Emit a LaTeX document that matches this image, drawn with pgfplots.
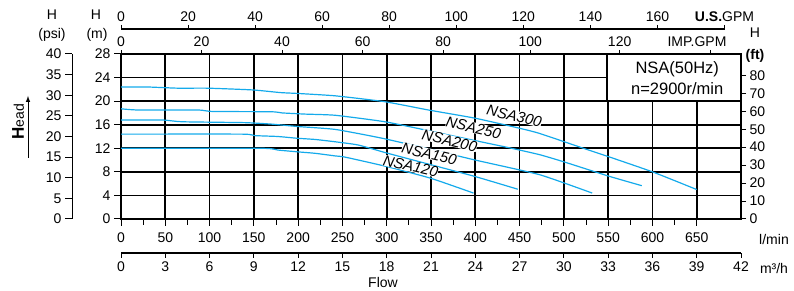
\documentclass[border=0pt]{standalone}
\usepackage{fontspec}
\setmainfont{Liberation Sans}
\usepackage{pgfplots}
\pgfplotsset{compat=1.18}
\definecolor{cb}{RGB}{20,170,235}
\begin{document}
\begin{tikzpicture}[x=1pt,y=1pt]
\useasboundingbox (0pt,0pt) rectangle (794pt,291pt);
\pgfplotsset{every axis/.append style={scale only axis,
  /pgf/number format/assume math mode=true,
  tick label style={font=\fontsize{14}{16}\selectfont},
  tick style={black, line width=1pt}}}
% psi axis
\begin{axis}[at={(72pt,72pt)}, anchor=south west, width=10pt, height=165pt,
  ymin=0, ymax=40, xmin=0, xmax=1, hide x axis, axis y line*=left,
  ytick={0,5,...,40}, ytick align=outside, major tick length=7pt,
  axis line style={black, line width=1pt}]
\end{axis}
% US GPM axis
\begin{axis}[at={(121pt,252pt)}, anchor=south west, width=603.5pt, height=10pt,
  xmin=0, xmax=180, ymin=0, ymax=1, hide y axis, axis x line*=top,
  xtick={0,20,...,180}, xticklabels={0,20,40,60,80,100,120,140,160,{\textbf{U.S.}GPM}},
  xticklabel pos=upper, xtick align=outside, major tick length=4pt,
  axis line style={black, line width=1.1pt}]
\end{axis}
% IMP GPM axis (top border)
\begin{axis}[at={(121pt,72pt)}, anchor=south west, width=620pt, height=165pt,
  xmin=0, xmax=700, ymin=0, ymax=1, hide y axis, axis x line*=top,
  xtick={0,90.9,181.8,272.7,363.7,462,563,665}, xticklabels={0,20,40,60,80,100,120,{}},
  xticklabel pos=upper, xtick align=outside, major tick length=4pt,
  axis line style={draw=none}]
\end{axis}
% m3/h axis
\begin{axis}[at={(121pt,38pt)}, anchor=south west, width=620pt, height=10pt,
  xmin=0, xmax=42, ymin=0, ymax=1, hide y axis, axis x line*=bottom,
  xtick={0,3,...,42}, xtick align=outside, major tick length=5pt,
  axis line style={black, line width=1.1pt}]
\end{axis}
% ft axis
\begin{axis}[at={(121pt,72pt)}, anchor=south west, width=620pt, height=165pt,
  xmin=0, xmax=700, ymin=0, ymax=91.86, hide x axis, axis y line*=right,
  ytick={0,10,...,80}, ytick align=outside, major tick length=5pt,
  axis line style={draw=none}]
\end{axis}
% main axis
\begin{axis}[at={(121pt,72pt)}, anchor=south west, width=620pt, height=165pt,
  xmin=0, xmax=700, ymin=0, ymax=28,
  xtick={0,50,...,650}, ytick={0,4,...,28}, minor x tick num=1,
  xtick pos=left, ytick pos=left, xtick align=outside, ytick align=outside,
  major tick length=7pt, minor tick length=6pt,
  grid=major, major grid style={black, line width=1.7pt},
  axis line style={black, line width=1.7pt},
  x tick label style={yshift=-3pt},
  clip=false]
\addplot[cb, line width=1.2pt, smooth, tension=0.3] coordinates {(0,22.4)(30,22.4)(64,22.2)(98,22.2)(149,21.9)(180,21.45)(200,21.3)(242,20.9)(298,19.9)(347,18.5)(400,17.1)(450,15.4)(473,14.5)(524,11.9)(550,10.6)(600,8.0)(650,5.0)};
\addplot[cb, line width=1.2pt, smooth, tension=0.3] coordinates {(0,18.7)(19,18.5)(87,18.5)(103,18.25)(170,18.2)(182,18.0)(208,17.8)(242,17.6)(298,16.5)(350,14.9)(400,13.3)(441,12.0)(473,10.9)(500,9.7)(550,7.3)(588,5.65)};
\addplot[cb, line width=1.2pt, smooth, tension=0.3] coordinates {(0,16.8)(47,16.8)(69,16.5)(140,16.35)(170,16.1)(199,15.7)(242,15.2)(295,13.7)(350,11.8)(400,10.0)(473,7.5)(532,4.4)};
\addplot[cb, line width=1.2pt, smooth, tension=0.3] coordinates {(0,14.4)(137,14.4)(151,14.15)(177,14.0)(199,13.7)(219,13.5)(242,13.1)(268,12.55)(300,11.2)(350,9.2)(400,7.2)(448,5.05)};
\addplot[cb, line width=1.2pt, smooth, tension=0.3] coordinates {(0,12.0)(159,12.0)(177,11.7)(199,11.4)(219,11.15)(242,10.7)(253,10.5)(300,8.9)(350,6.9)(398,4.4)};
\tikzset{lab/.style={rotate=-13, fill=white, inner sep=0pt, font=\itshape\fontsize{15}{16}\selectfont}}
\node[lab] at (axis cs:444,17.5) {NSA300};
\node[lab] at (axis cs:398,15.5) {NSA250};
\node[lab] at (axis cs:371,13.3) {NSA200};
\node[lab] at (axis cs:348,11.05) {NSA150};
\node[lab] at (axis cs:327,8.95) {NSA120};
\draw[black, line width=1.7pt, fill=white] (axis cs:549,20) rectangle (axis cs:700,28);
\node[font=\fontsize{16.5}{18}\selectfont] at (axis cs:628,25.45) {NSA(50Hz)};
\node[font=\fontsize{16.5}{18}\selectfont] at (axis cs:628,22.06) {n=2900r/min};
\end{axis}
\tikzset{lbl/.style={font=\fontsize{14}{16}\selectfont, inner sep=0pt}}
\node[lbl] at (52pt,276pt) {H};
\node[lbl] at (52pt,256pt) {(psi)};
\node[lbl] at (96pt,276pt) {H};
\node[lbl] at (97pt,256pt) {(m)};
\node[lbl] at (697pt,249pt) {IMP.GPM};
\node[lbl] at (755pt,258pt) {H};
\node[lbl] at (755pt,235pt) {\textbf{(ft)}};
\node[lbl] at (774pt,52pt) {l/min};
\node[lbl] at (774pt,23pt) {m³/h};
\node[lbl] at (383pt,9pt) {Flow};
\node[rotate=90, inner sep=0pt, anchor=west] at (18pt,151pt) {\fontsize{17}{18}\selectfont\textbf{H}\fontsize{14}{16}\selectfont ead};
\draw[-latex, line width=1pt] (28pt,133pt) -- (28pt,195pt);
\end{tikzpicture}
\end{document}
